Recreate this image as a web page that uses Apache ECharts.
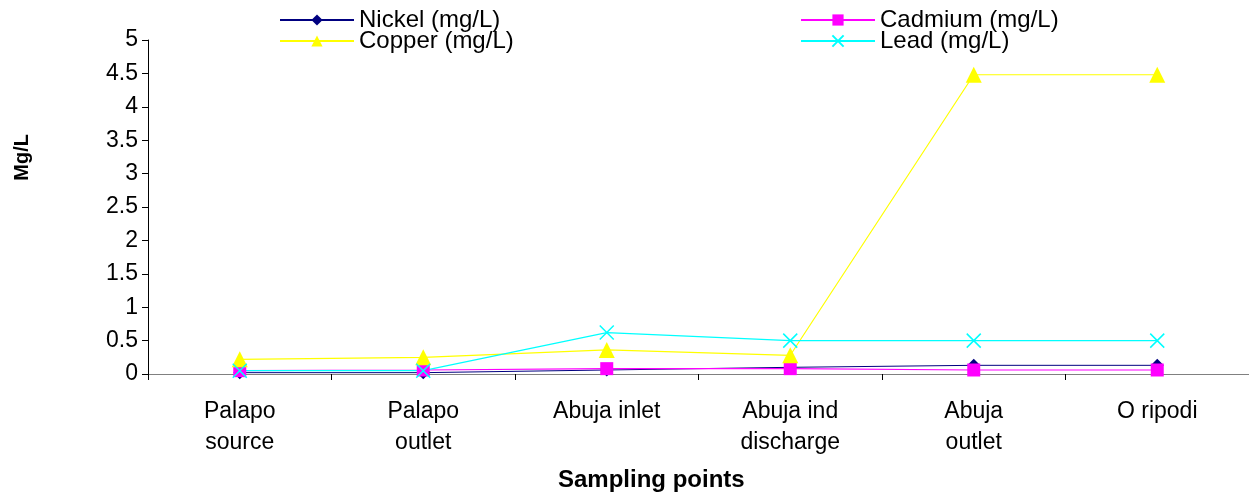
<!DOCTYPE html>
<html><head><meta charset="utf-8">
<script src="https://cdn.jsdelivr.net/npm/echarts@6/dist/echarts.min.js"></script>
<style>html,body{margin:0;padding:0;background:#fff}#c{width:1249px;height:495px}</style>
</head><body><div id="c"></div>
<script>
const categories = ['Palapo\nsource', 'Palapo\noutlet', 'Abuja inlet', 'Abuja ind\ndischarge', 'Abuja\noutlet', 'O ripodi'];
const nickel = [0.02, 0.02, 0.06, 0.10, 0.13, 0.13];
const cadmium = [0.05, 0.06, 0.08, 0.08, 0.06, 0.06];
const copper = [0.22, 0.25, 0.36, 0.28, 4.48, 4.48];
const lead = [0.05, 0.05, 0.62, 0.50, 0.50, 0.50];
const yTicks = [0, 0.5, 1, 1.5, 2, 2.5, 3, 3.5, 4, 4.5, 5];

const FONT = 'Liberation Sans, Arial, sans-serif';
const chart = echarts.init(document.getElementById('c'));
const crossPath = 'path://M0,0L10,10M10,0L0,10';
const legendText = { fontSize: 24, lineHeight: 21, color: '#000', fontFamily: FONT };
chart.setOption({
  animation: false,
  textStyle: { fontFamily: FONT },
  grid: { left: 148, right: 0, top: 40, bottom: 121 },
  legend: [
    { data: ['Nickel (mg/L)', 'Copper (mg/L)'], left: 279, top: 8, orient: 'vertical', itemGap: -3,
      itemWidth: 74, itemHeight: 14, padding: 0, textStyle: legendText },
    { data: ['Cadmium (mg/L)', 'Lead (mg/L)'], left: 800, top: 8, orient: 'vertical', itemGap: -3,
      itemWidth: 74, itemHeight: 14, padding: 0, textStyle: legendText }
  ],
  xAxis: {
    type: 'category', data: categories, boundaryGap: true,
    axisLine: { lineStyle: { color: '#808080', width: 1 } },
    axisTick: { show: true, alignWithLabel: false, length: 6, lineStyle: { color: '#000' } },
    axisLabel: { fontSize: 23, color: '#000', margin: 22, lineHeight: 31, interval: 0 }
  },
  yAxis: {
    type: 'value', min: 0, max: 5, interval: 0.5,
    axisLine: { show: true, lineStyle: { color: '#000', width: 1 } },
    axisTick: { show: true, length: 6, lineStyle: { color: '#000' } },
    splitLine: { show: false },
    axisLabel: { fontSize: 23, color: '#000', margin: 10,
      formatter: v => yTicks.includes(v) ? String(v) : '' }
  },
  graphic: [
    { type: 'text', left: 12, top: 134, rotation: Math.PI / 2,
      style: { text: 'Mg/L', font: 'bold 20px ' + FONT, fill: '#000' } },
    { type: 'text', left: 558, top: 468,
      style: { text: 'Sampling points', font: 'bold 24px ' + FONT, fill: '#000' } }
  ],
  series: [
    { name: 'Nickel (mg/L)', type: 'line', data: nickel, symbol: 'diamond', symbolSize: 13,
      lineStyle: { color: '#000080', width: 1 }, itemStyle: { color: '#000080' } },
    { name: 'Cadmium (mg/L)', type: 'line', data: cadmium, symbol: 'rect', symbolSize: 13,
      lineStyle: { color: '#FF00FF', width: 1.2 }, itemStyle: { color: '#FF00FF' } },
    { name: 'Copper (mg/L)', type: 'line', data: copper, symbol: 'triangle', symbolSize: 16,
      lineStyle: { color: '#FFFF00', width: 1.2 }, itemStyle: { color: '#FFFF00' } },
    { name: 'Lead (mg/L)', type: 'line', data: lead, symbol: crossPath, symbolSize: 14,
      lineStyle: { color: '#00FFFF', width: 1.2 },
      itemStyle: { color: 'none', borderColor: '#00FFFF', borderWidth: 1.5 } }
  ]
});
</script></body></html>
